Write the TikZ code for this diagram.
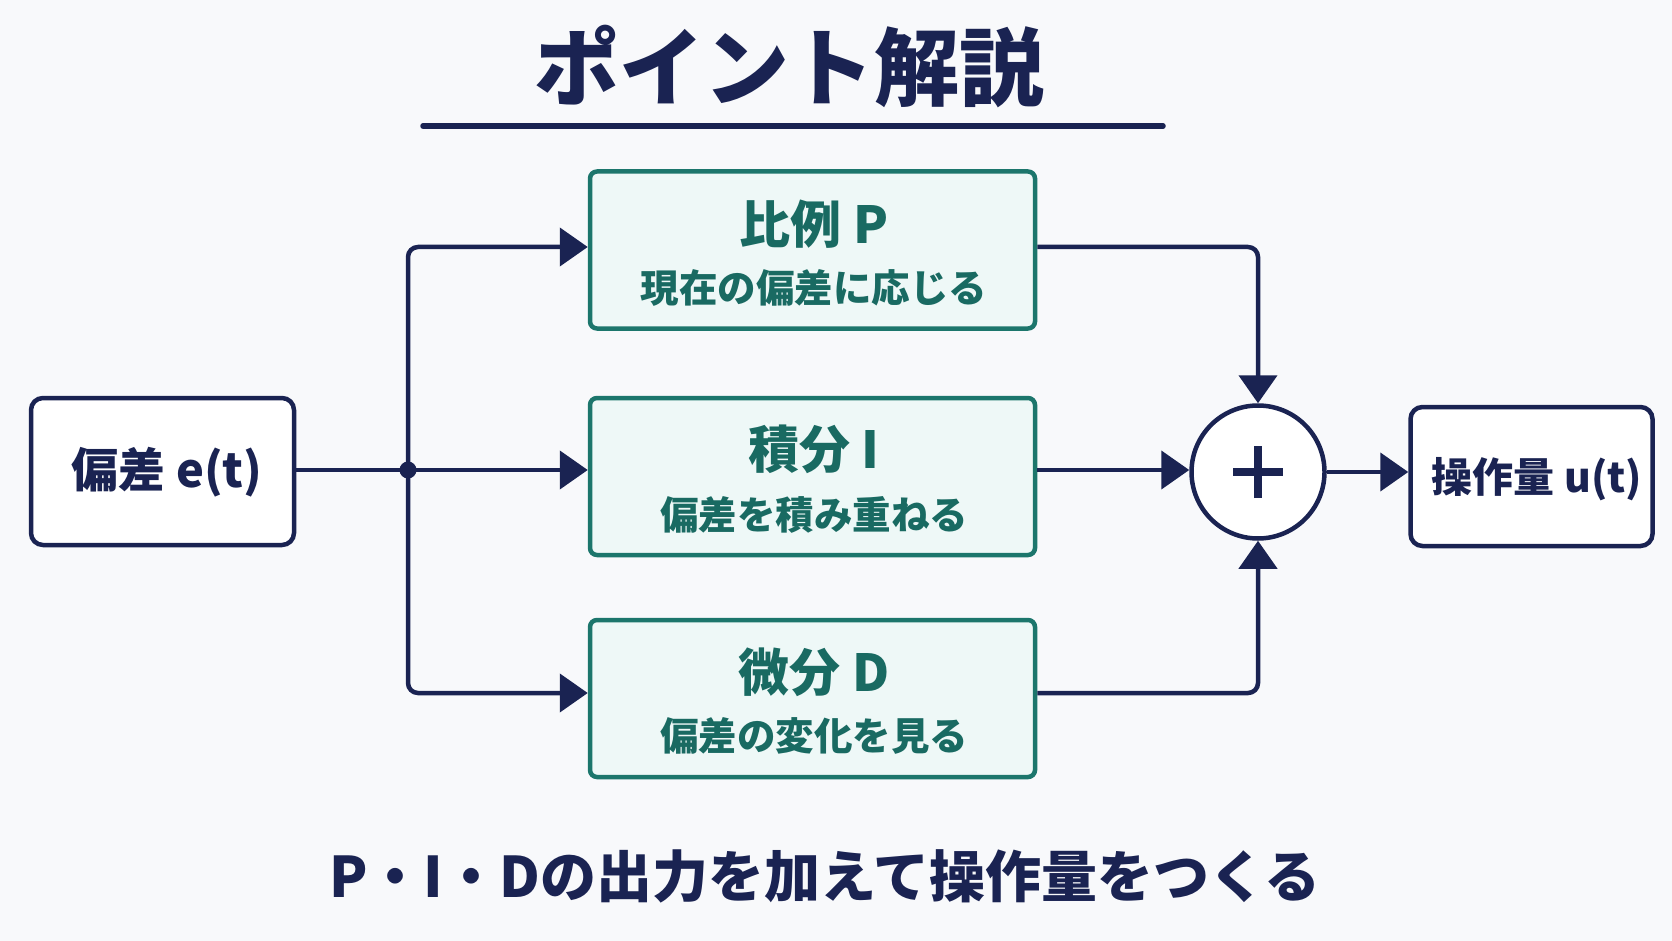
\documentclass[tikz,border=0pt]{standalone}
\usepackage{fontspec}
\setmainfont{Noto Sans CJK JP}
\usetikzlibrary{arrows.meta}
\definecolor{navy}{RGB}{26,35,82}
\definecolor{teal1}{RGB}{28,118,108}
\definecolor{tealtext}{RGB}{25,106,98}
\definecolor{tealfill}{RGB}{238,248,247}
\definecolor{bg}{RGB}{248,249,251}
\tikzset{
  pidbox/.style={draw=teal1, line width=4.5pt, fill=tealfill, rounded corners=7pt, minimum width=445pt, minimum height=157pt, inner sep=0pt},
  iobox/.style={draw=navy, line width=4.5pt, fill=white, rounded corners=12pt, inner sep=0pt},
  boxtitle/.style={text=tealtext, font=\bfseries\fontsize{51}{56}\selectfont, inner sep=0pt},
  boxsub/.style={text=tealtext, font=\bfseries\fontsize{38.5}{42}\selectfont, inner sep=0pt},
  iotext/.style={text=navy, font=\bfseries\fontsize{47}{52}\selectfont, inner sep=0pt},
  conn/.style={draw=navy, line width=4.5pt, rounded corners=10pt},
  arr/.style={conn, -{Triangle[length=28pt,width=38pt]}},
}
\begin{document}
\begin{tikzpicture}[x=1pt,y=-1pt]
\fill[bg] (0,0) rectangle (1672,941);
\useasboundingbox (0,0) rectangle (1672,941);
% title
\node[text=navy, font=\bfseries\fontsize{85}{92}\selectfont, inner sep=0pt] (title) at (789,67) {ポイント解説};
\coordinate (ulL) at (423,126);
\coordinate (ulR) at (1163,126);
\draw[navy, line width=5.5pt, line cap=round] (ulL) -- (ulR);
% boxes
\node[pidbox] (P) at (812.5,250) {};
\node[pidbox] (I) at (812.5,476.5) {};
\node[pidbox] (D) at (812.5,698.5) {};
\node[boxtitle] (Pt) at (814,224) {比例 P};
\node[boxsub] (Ps) at (814,288) {現在の偏差に応じる};
\node[boxtitle] (It) at (814,449) {積分 I};
\node[boxsub] (Is) at (814,515) {偏差を積み重ねる};
\node[boxtitle] (Dt) at (814,672) {微分 D};
\node[boxsub] (Ds) at (814,736) {偏差の変化を見る};
% input/output
\node[iobox, minimum width=263pt, minimum height=147pt] (E) at (162.5,471.5) {};
\node[iotext] (Et) at (167,472) {偏差 e(t)};
\node[iobox, minimum width=242pt, minimum height=139pt] (U) at (1531.5,476.5) {};
\node[iotext, font=\bfseries\fontsize{41}{48}\selectfont] (Ut) at (1537,479) {操作量 u(t)};
% sum
\node[circle, draw=navy, line width=4.5pt, fill=white, minimum size=133pt, inner sep=0pt] (S) at (1258,472) {};
\draw[navy, line width=7.5pt] ([xshift=-25pt]S.center) -- ([xshift=25pt]S.center);
\draw[navy, line width=7.5pt] ([yshift=-26pt]S.center) -- ([yshift=26pt]S.center);
% junction
\coordinate (J) at (408,470);
\fill[navy] (J) circle (8.5pt);
% connectors
\draw[conn] (E.east |- J) -- (J);
\draw[arr] (J) -- (I.west |- J);
\draw[arr] (J) |- ([yshift=3pt]P.west);
\draw[arr] (J) |- ([yshift=5.5pt]D.west);
\draw[arr] ([yshift=3pt]P.east) -| (S.north);
\draw[arr] (I.east |- J) -- (S.west |- J);
\draw[arr] ([yshift=5.5pt]D.east) -| (S.south);
\draw[arr] (S.east) -- (U.west |- S.east);
% bottom text
\node[text=navy, font=\bfseries\fontsize{56}{62}\selectfont, inner sep=0pt] (bottom) at (825,876) {P・I・Dの出力を加えて操作量をつくる};
\end{tikzpicture}
\end{document}
